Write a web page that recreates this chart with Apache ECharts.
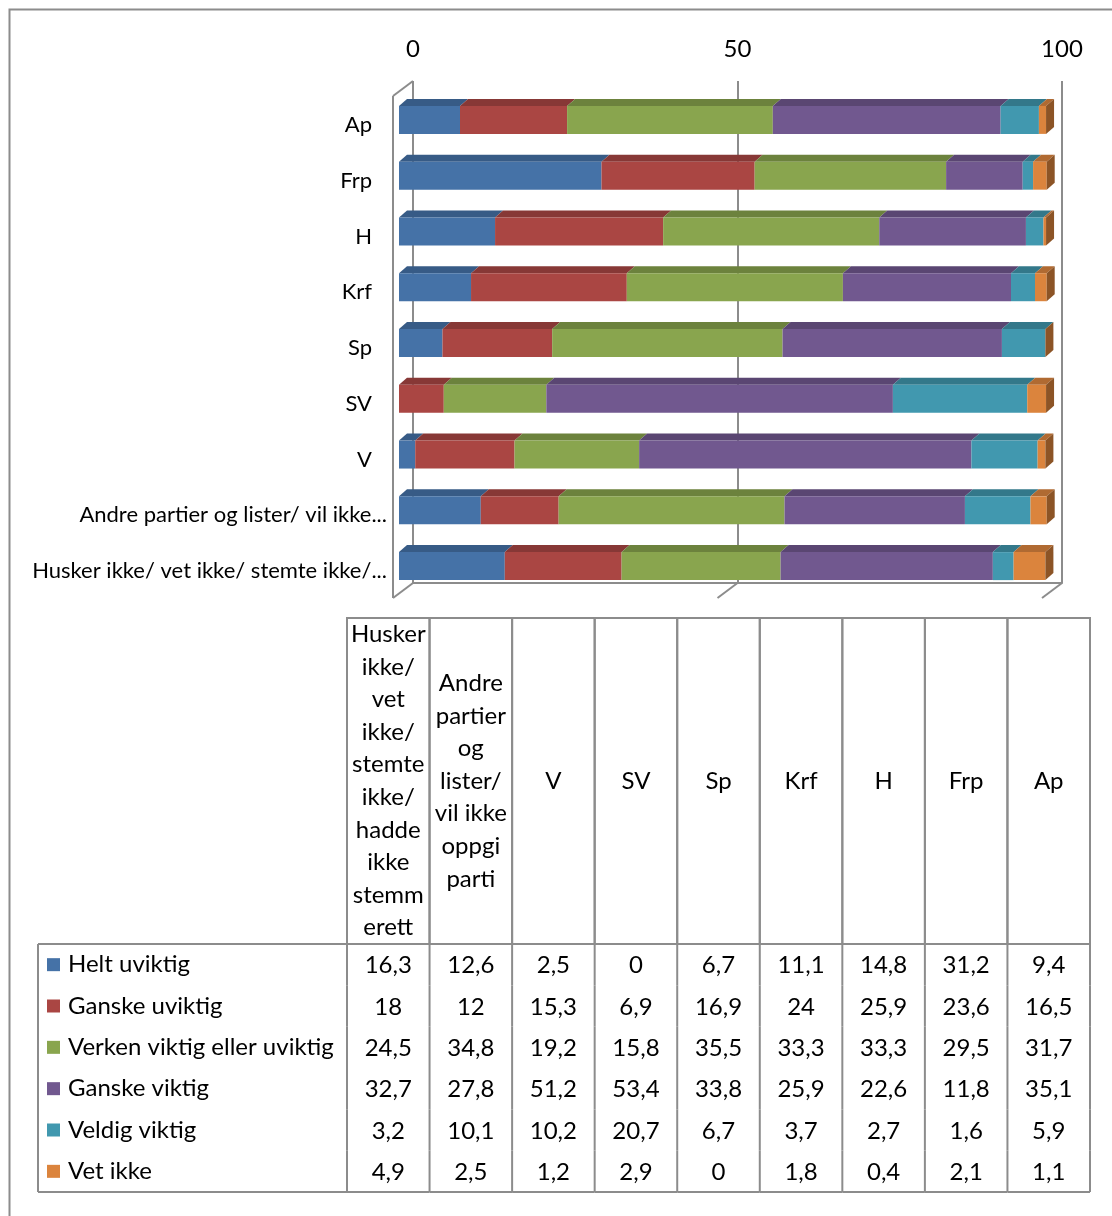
<!DOCTYPE html>
<html>
<head>
<meta charset="utf-8">
<script src="https://cdn.jsdelivr.net/npm/echarts@6/dist/echarts.min.js"></script>
<style>
html,body{margin:0;padding:0;background:#fff;}
#chart{width:1112px;height:1216px;}
</style>
</head>
<body>
<div id="chart"></div>
<script>
// ---------- data ----------
const categories = ['Ap', 'Frp', 'H', 'Krf', 'Sp', 'SV', 'V',
  'Andre partier og lister/ vil ikke oppgi parti',
  'Husker ikke/ vet ikke/ stemte ikke/ hadde ikke stemmerett'];
const seriesNames = ['Helt uviktig', 'Ganske uviktig', 'Verken viktig eller uviktig',
  'Ganske viktig', 'Veldig viktig', 'Vet ikke'];
const heltUviktig   = [9.4, 31.2, 14.8, 11.1, 6.7, 0, 2.5, 12.6, 16.3];
const ganskeUviktig = [16.5, 23.6, 25.9, 24, 16.9, 6.9, 15.3, 12, 18];
const verken        = [31.7, 29.5, 33.3, 33.3, 35.5, 15.8, 19.2, 34.8, 24.5];
const ganskeViktig  = [35.1, 11.8, 22.6, 25.9, 33.8, 53.4, 51.2, 27.8, 32.7];
const veldigViktig  = [5.9, 1.6, 2.7, 3.7, 6.7, 20.7, 10.2, 10.1, 3.2];
const vetIkke       = [1.1, 2.1, 0.4, 1.8, 0, 2.9, 1.2, 2.5, 4.9];
const axisMin = 0, axisMax = 100, axisInterval = 50;

// ---------- styling ----------
const seriesValues = [heltUviktig, ganskeUviktig, verken, ganskeViktig, veldigViktig, vetIkke];
const frontColors = ['#4572A7', '#AA4643', '#89A54E', '#71588F', '#4198AF', '#DB843D'];
const topColors   = ['#375B86', '#873836', '#6C823D', '#5A4672', '#33788A', '#B06A32'];
const sideColor = '#8C5426';
const lineGrey = '#8c8c8c';
const FONT = 'Lato, "Open Sans", sans-serif';
const HEADER_FONT = '24px ' + FONT;
const tableCols = categories.slice().reverse();

// word wrap like the spreadsheet does (long words are broken by characters)
const measureCtx = document.createElement('canvas').getContext('2d');
function wrapText(text, maxW, font) {
  measureCtx.font = font;
  const m = s => measureCtx.measureText(s).width;
  const words = text.split(' ');
  const lines = [];
  let cur = '';
  words.forEach(w => {
    const test = cur ? cur + ' ' + w : w;
    if (m(test) <= maxW) { cur = test; return; }
    if (cur) lines.push(cur);
    cur = w;
    while (m(cur) > maxW && cur.length > 1) {
      let k = cur.length;
      while (k > 1 && m(cur.slice(0, k)) > maxW) k--;
      lines.push(cur.slice(0, k));
      cur = cur.slice(k);
    }
  });
  if (cur) lines.push(cur);
  return lines.join('\n');
}
// category label shortening (word boundary + "...")
function shortLabel(text) {
  if (text.length <= 30) return { text: text, cut: false };
  const words = text.split(' ');
  let out = '';
  for (const w of words) {
    const t = out ? out + ' ' + w : w;
    if (t.length > 35) break;
    out = t;
  }
  return { text: out + '...', cut: true };
}

const chart = echarts.init(document.getElementById('chart'));

const DX = 8, DY = 7, BAR_H = 28;

const barSeries = seriesValues.map((vals, s) => ({
  type: 'custom',
  name: seriesNames[s],
  xAxisIndex: 0, yAxisIndex: 0,
  encode: { x: [1, 2], y: 0 },
  z: 5 + s,
  data: categories.map((c, i) => {
    let start = 0;
    for (let k = 0; k < s; k++) start += seriesValues[k][i];
    return [i, start, start + vals[i]];
  }),
  renderItem: function (params, api) {
    const i = api.value(0), a = api.value(1), b = api.value(2);
    const p0 = api.coord([a, i]), p1 = api.coord([b, i]);
    const yt = p0[1] - BAR_H / 2, yb = p0[1] + BAR_H / 2;
    const x0 = p0[0], x1 = p1[0];
    const children = [];
    if (x1 - x0 > 0.01) {
      children.push({ type: 'polygon', shape: { points: [[x0, yt], [x1, yt], [x1 + DX, yt - DY], [x0 + DX, yt - DY]] },
        style: { fill: topColors[s] } });
      children.push({ type: 'rect', shape: { x: x0, y: yt, width: x1 - x0, height: BAR_H },
        style: { fill: frontColors[s] } });
    }
    if (s === seriesValues.length - 1) {
      children.push({ type: 'polygon', shape: { points: [[x1, yt], [x1 + DX, yt - DY], [x1 + DX, yb - DY], [x1, yb]] },
        style: { fill: sideColor } });
    }
    return { type: 'group', children: children };
  }
}));

const wallSeries = {
  type: 'custom',
  xAxisIndex: 1, yAxisIndex: 1,
  z: 1,
  data: [[0, 0]],
  renderItem: function (params, api) {
    const cs = params.coordSys;
    const WX = 20, WY = 15;
    const st = { stroke: lineGrey, lineWidth: 2 };
    const bottom = cs.y + cs.height;
    const xl = api.coord([axisMin, 0])[0];
    const children = [
      { type: 'line', shape: { x1: xl - WX, y1: cs.y + WY, x2: xl - WX, y2: bottom + WY }, style: st },
      { type: 'line', shape: { x1: xl - WX, y1: cs.y + WY, x2: xl, y2: cs.y }, style: st },
      { type: 'line', shape: { x1: xl - WX, y1: bottom + WY, x2: xl, y2: bottom }, style: st }
    ];
    for (let v = axisMin + axisInterval; v <= axisMax; v += axisInterval) {
      const x = api.coord([v, 0])[0];
      children.push({ type: 'line', shape: { x1: x, y1: bottom, x2: x - WX, y2: bottom + WY }, style: st });
    }
    return { type: 'group', children: children };
  }
};

const headerSeries = {
  type: 'custom',
  xAxisIndex: 2, yAxisIndex: 2,
  encode: { x: 0, y: 1 },
  data: tableCols.map((c, i) => [i, 0.5]),
  renderItem: function (params, api) {
    const cs = params.coordSys;
    const cx = api.coord([api.value(0), 0.5])[0];
    const w = api.size([1, 0])[0];
    return { type: 'group', children: [
      { type: 'rect', shape: { x: cx - w / 2, y: cs.y, width: w, height: cs.height },
        style: { fill: 'none', stroke: lineGrey, lineWidth: 2 } },
      { type: 'text', style: { x: cx, y: cs.y + cs.height / 2,
        text: wrapText(tableCols[params.dataIndex], w - 4, HEADER_FONT),
        lineHeight: 32.6, align: 'center', verticalAlign: 'middle',
        font: HEADER_FONT, fill: '#000' } }
    ] };
  }
};

const tableData = [];
seriesValues.forEach((vals, r) => {
  tableCols.forEach((c, col) => {
    const pi = categories.indexOf(c);
    tableData.push([col, r, vals[pi]]);
  });
});

const tableSeries = {
  type: 'custom',
  xAxisIndex: 3, yAxisIndex: 3,
  encode: { x: 0, y: 1 },
  data: tableData,
  renderItem: function (params, api) {
    const cs = params.coordSys;
    const col = api.value(0), row = api.value(1), v = api.value(2);
    const c = api.coord([col, row]);
    const sz = api.size([1, 1]);
    const st = { stroke: lineGrey, lineWidth: 2 };
    const xl = c[0] - sz[0] / 2, xr = c[0] + sz[0] / 2, yt = c[1] - sz[1] / 2, yb = c[1] + sz[1] / 2;
    const children = [
      { type: 'line', shape: { x1: xl, y1: yt, x2: xl, y2: yb }, style: st },
      { type: 'text', style: { x: c[0], y: c[1] + 1, text: String(v).replace('.', ','),
        align: 'center', verticalAlign: 'middle', font: '24px ' + FONT, fill: '#000' } }
    ];
    if (col === tableCols.length - 1) children.push({ type: 'line', shape: { x1: xr, y1: yt, x2: xr, y2: yb }, style: st });
    if (row === seriesValues.length - 1) children.push({ type: 'line', shape: { x1: xl, y1: yb, x2: xr, y2: yb }, style: st });
    if (params.dataIndex === 0) {
      const lx = cs.x - 309, by = cs.y + cs.height;
      children.push({ type: 'line', shape: { x1: lx, y1: cs.y, x2: cs.x, y2: cs.y }, style: st });
      children.push({ type: 'line', shape: { x1: lx, y1: cs.y, x2: lx, y2: by }, style: st });
      children.push({ type: 'line', shape: { x1: lx, y1: by, x2: cs.x, y2: by }, style: st });
    }
    return { type: 'group', children: children };
  }
};

const legendRich = { t: { fontSize: 24, fontFamily: FONT, color: '#000', padding: [0, 0, 0, 8] } };
frontColors.forEach((col, k) => { legendRich['s' + k] = { width: 13, height: 13, backgroundColor: col }; });

const catRich = {
  n: { fontSize: 22, fontFamily: FONT, color: '#000', padding: [10, 15, 0, 0] },
  e: { fontSize: 22, fontFamily: FONT, color: '#000', padding: [10, 0, 0, 0] }
};

const option = {
  animation: false,
  backgroundColor: '#fff',
  textStyle: { fontFamily: FONT },
  graphic: [{ type: 'rect', left: 7, top: 7, silent: true,
    shape: { width: 1200, height: 1300 }, style: { fill: 'none', stroke: lineGrey, lineWidth: 2 } }],
  grid: [
    { left: 399, top: 92, width: 649, height: 502 },
    { left: 413, top: 81, width: 649, height: 502 },
    { left: 347, top: 618, width: 743, height: 326 },
    { left: 347, top: 944, width: 743, height: 248 }
  ],
  xAxis: [
    { gridIndex: 0, type: 'value', min: axisMin, max: axisMax, show: false },
    { gridIndex: 1, type: 'value', position: 'top', min: axisMin, max: axisMax, interval: axisInterval,
      axisLine: { show: true, lineStyle: { color: lineGrey, width: 2 } },
      axisTick: { show: false },
      axisLabel: { fontSize: 24, color: '#000', fontFamily: FONT, margin: 20 },
      splitLine: { show: true, lineStyle: { color: lineGrey, width: 2 } } },
    { gridIndex: 2, type: 'category', data: tableCols, show: false },
    { gridIndex: 3, type: 'category', data: tableCols, show: false }
  ],
  yAxis: [
    { gridIndex: 0, type: 'category', data: categories, inverse: true,
      axisLine: { show: false }, axisTick: { show: false }, splitLine: { show: false },
      axisLabel: { margin: 12, rich: catRich,
        formatter: function (value) {
          const s = shortLabel(value);
          return (s.cut ? '{e|' : '{n|') + s.text + '}';
        } } },
    { gridIndex: 1, type: 'value', min: 0, max: 1, show: false },
    { gridIndex: 2, type: 'value', min: 0, max: 1, show: false },
    { gridIndex: 3, type: 'category', data: seriesNames, inverse: true,
      axisLine: { show: false }, axisTick: { show: false }, splitLine: { show: false },
      axisLabel: { align: 'left', margin: 300, rich: legendRich,
        formatter: function (value, index) { return '{s' + index + '|}{t|' + value + '}'; } } }
  ],
  series: [wallSeries].concat(barSeries, [headerSeries, tableSeries])
};
chart.setOption(option);
</script>
</body>
</html>
